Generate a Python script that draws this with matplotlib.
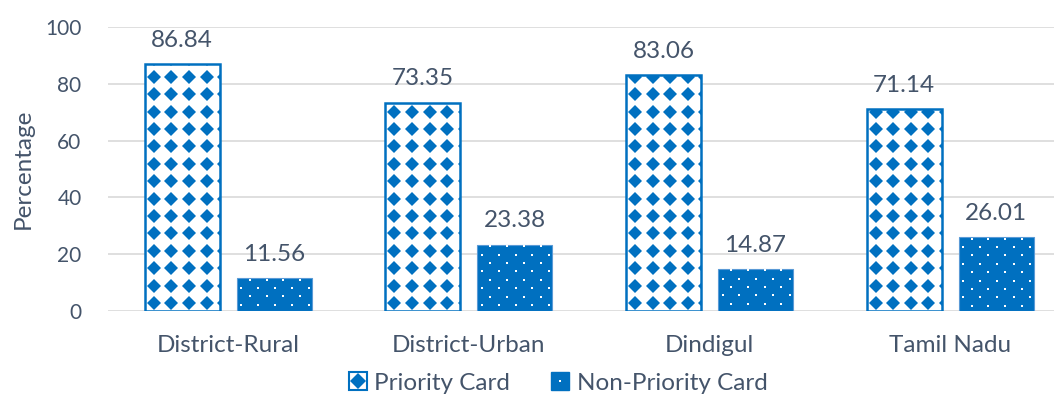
import numpy as np
import matplotlib
matplotlib.use("Agg")
import matplotlib.pyplot as plt
from matplotlib.patches import Patch
from matplotlib.lines import Line2D

categories = ["District-Rural", "District-Urban", "Dindigul", "Tamil Nadu"]
priority = [86.84, 73.35, 83.06, 71.14]
non_priority = [11.56, 23.38, 14.87, 26.01]
series_names = ["Priority Card", "Non-Priority Card"]

blue = "#0070C0"
txt = "#44546A"
grid_c = "#D9D9D9"

plt.rcParams["font.family"] = ["Lato", "DejaVu Sans"]

W, H = 1054, 396
fig = plt.figure(figsize=(W / 100, H / 100), dpi=100)
ax_left, ax_bottom = 108, 311
cat_px = 240.6
ax = fig.add_axes([ax_left / W, (H - ax_bottom) / H, 4 * cat_px / W, 284 / H])
ax.set_xlim(-0.5, 3.5)
ax.set_ylim(0, 100)

px_x = 1 / cat_px          # data units per pixel
px_y = 100 / 284

x = np.arange(len(categories))
bw = 75 * px_x
off = 46 * px_x

# priority bars: white with blue diamonds
bars1 = ax.bar(x - off, priority, bw, color="white", zorder=2)
for b in bars1:
    l, h = b.get_x(), b.get_height()
    xs = l + (9 + 17.6 * np.arange(-1, 7)) * px_x
    ys = (8 + 17.4 * np.arange(0, 20)) * px_y
    gx, gy = np.meshgrid(xs, ys)
    ln, = ax.plot(gx.ravel(), gy.ravel(), ls="", marker="D", ms=7.2,
                  color=blue, mew=0, zorder=3)
    ln.set_clip_path(b)
ax.bar(x - off, priority, bw, fill=False, edgecolor=blue, linewidth=1.8, zorder=4)

# non-priority bars: blue with white dots
bars2 = ax.bar(x + off, non_priority, bw, color=blue, edgecolor="#5A9AD6",
               linewidth=0.8, zorder=2)
for b in bars2:
    l, h = b.get_x(), b.get_height()
    for j in range(0, 40):
        yy = h - (1.5 + 8.4 * j) * px_y
        if yy < 0:
            break
        shift = 0 if j % 2 == 0 else -8.4
        xs = l + (13 + shift + 16.8 * np.arange(-1, 6)) * px_x
        ln, = ax.plot(xs, np.full_like(xs, yy), ls="", marker="s", ms=1.6,
                      color="white", mew=0, zorder=3)
        ln.set_clip_path(b)

# value labels
for xi, v in zip(x - off, priority):
    ax.annotate(f"{v:.2f}", (xi, v), xytext=(0, 9.5), textcoords="offset points",
                ha="center", va="bottom", fontsize=17.5, color=txt)
for xi, v in zip(x + off, non_priority):
    ax.annotate(f"{v:.2f}", (xi, v), xytext=(0, 9.5), textcoords="offset points",
                ha="center", va="bottom", fontsize=17.5, color=txt)

ax.set_yticks(range(0, 101, 20))
ax.set_xticks(x)
ax.set_xticklabels(categories, fontsize=17.5)
ax.tick_params(axis="both", length=0, labelcolor=txt)
ax.tick_params(axis="y", pad=19, labelsize=15)
ax.tick_params(axis="x", pad=17)
ax.yaxis.grid(True, color=grid_c, linewidth=1.2, zorder=0)
ax.set_axisbelow(True)
for s in ax.spines.values():
    s.set_visible(False)
ax.set_ylabel("Percentage", fontsize=17.5, color=txt, labelpad=8)

h1 = (Patch(facecolor="white", edgecolor=blue, linewidth=1.5),
      Line2D([], [], ls="", marker="D", ms=8, color=blue, mew=0))
h2 = (Patch(facecolor=blue, edgecolor=blue),
      Line2D([], [], ls="", marker="s", ms=2, color="white", mew=0))
fig.legend([h1, h2], series_names, loc="center",
           bbox_to_anchor=(558 / W, 1 - 383 / H), bbox_transform=fig.transFigure,
           ncol=2, frameon=False, fontsize=17.5, labelcolor=txt,
           handlelength=0.75, handleheight=0.75, handletextpad=0.3, columnspacing=1.7,
           borderpad=0.1)

fig.savefig("out.png", dpi=100)
